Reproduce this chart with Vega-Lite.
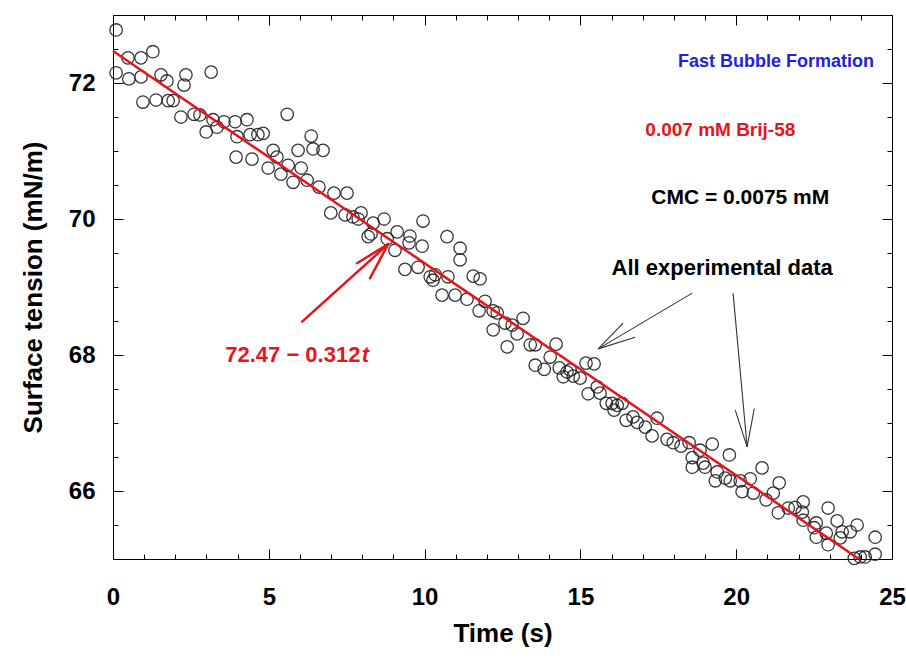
{
  "$schema": "https://vega.github.io/schema/vega-lite/v6.json",
  "width": 779,
  "height": 544,
  "autosize": {"type": "none"},
  "padding": {"left": 113, "top": 15, "right": 14, "bottom": 104},
  "background": "white",
  "config": {"font": "Liberation Sans", "view": {"stroke": "black", "strokeWidth": 1}},
  "datasets": {
    "pts": [
      {"t":0.10,"st":72.78},{"t":0.48,"st":72.37},{"t":0.90,"st":72.37},{"t":1.28,"st":72.46},{"t":0.10,"st":72.15},
      {"t":0.51,"st":72.06},{"t":0.90,"st":72.09},{"t":1.54,"st":72.12},{"t":1.73,"st":72.03},{"t":2.34,"st":72.12},
      {"t":2.28,"st":71.97},{"t":3.15,"st":72.16},{"t":0.96,"st":71.72},{"t":1.38,"st":71.75},{"t":1.77,"st":71.74},
      {"t":1.93,"st":71.74},{"t":2.18,"st":71.50},{"t":2.60,"st":71.54},{"t":2.79,"st":71.53},{"t":2.99,"st":71.28},
      {"t":3.21,"st":71.46},{"t":3.34,"st":71.35},{"t":3.56,"st":71.43},{"t":3.92,"st":71.43},{"t":3.98,"st":71.21},
      {"t":4.30,"st":71.46},{"t":4.40,"st":71.24},{"t":4.65,"st":71.24},{"t":4.82,"st":71.26},{"t":3.95,"st":70.91},
      {"t":4.46,"st":70.88},{"t":5.59,"st":71.54},{"t":6.36,"st":71.22},{"t":5.14,"st":71.01},{"t":5.94,"st":71.01},
      {"t":6.42,"st":71.03},{"t":6.74,"st":71.01},{"t":5.26,"st":70.91},{"t":4.98,"st":70.75},{"t":5.39,"st":70.66},
      {"t":5.62,"st":70.79},{"t":6.04,"st":70.75},{"t":5.78,"st":70.54},{"t":6.23,"st":70.57},{"t":6.61,"st":70.47},
      {"t":7.09,"st":70.38},{"t":7.51,"st":70.38},{"t":6.99,"st":70.09},{"t":7.45,"st":70.06},{"t":7.70,"st":70.03},
      {"t":7.96,"st":70.09},{"t":7.87,"st":70.00},{"t":8.35,"st":69.94},{"t":8.70,"st":70.00},{"t":8.19,"st":69.74},
      {"t":8.28,"st":69.78},{"t":9.12,"st":69.81},{"t":8.80,"st":69.71},{"t":9.05,"st":69.54},{"t":9.95,"st":69.97},
      {"t":9.53,"st":69.75},{"t":9.50,"st":69.65},{"t":9.92,"st":69.60},{"t":10.72,"st":69.74},{"t":11.14,"st":69.57},
      {"t":11.14,"st":69.40},{"t":9.37,"st":69.26},{"t":9.79,"st":69.29},{"t":10.18,"st":69.15},{"t":10.27,"st":69.10},
      {"t":10.34,"st":69.18},{"t":10.75,"st":69.15},{"t":11.56,"st":69.16},{"t":11.78,"st":69.12},{"t":10.56,"st":68.88},
      {"t":10.98,"st":68.88},{"t":11.36,"st":68.82},{"t":11.94,"st":68.79},{"t":11.75,"st":68.65},{"t":12.20,"st":68.65},
      {"t":12.33,"st":68.62},{"t":12.58,"st":68.47},{"t":12.81,"st":68.44},{"t":13.16,"st":68.54},{"t":12.20,"st":68.37},
      {"t":12.97,"st":68.31},{"t":12.65,"st":68.12},{"t":13.39,"st":68.15},{"t":13.55,"st":68.15},{"t":14.22,"st":68.16},
      {"t":14.03,"st":67.97},{"t":13.55,"st":67.85},{"t":13.84,"st":67.79},{"t":14.32,"st":67.81},{"t":14.57,"st":67.75},
      {"t":14.67,"st":67.78},{"t":14.45,"st":67.68},{"t":14.77,"st":67.69},{"t":14.99,"st":67.66},{"t":15.18,"st":67.88},
      {"t":15.44,"st":67.87},{"t":15.54,"st":67.53},{"t":15.25,"st":67.43},{"t":15.63,"st":67.44},{"t":15.83,"st":67.29},
      {"t":16.02,"st":67.29},{"t":16.18,"st":67.26},{"t":16.34,"st":67.29},{"t":16.08,"st":67.19},{"t":16.47,"st":67.04},
      {"t":16.69,"st":67.09},{"t":16.82,"st":67.01},{"t":17.08,"st":66.94},{"t":17.46,"st":67.07},{"t":17.30,"st":66.81},
      {"t":17.78,"st":66.76},{"t":17.98,"st":66.71},{"t":18.23,"st":66.66},{"t":18.49,"st":66.71},{"t":18.84,"st":66.60},
      {"t":19.23,"st":66.69},{"t":19.78,"st":66.53},{"t":18.59,"st":66.49},{"t":18.94,"st":66.41},{"t":18.59,"st":66.35},
      {"t":19.00,"st":66.35},{"t":19.39,"st":66.28},{"t":19.33,"st":66.15},{"t":19.65,"st":66.19},{"t":19.81,"st":66.15},
      {"t":20.13,"st":66.15},{"t":20.45,"st":66.18},{"t":20.83,"st":66.34},{"t":20.19,"st":65.99},{"t":20.55,"st":65.97},
      {"t":20.96,"st":65.87},{"t":21.19,"st":65.97},{"t":21.38,"st":66.12},{"t":21.35,"st":65.68},{"t":21.67,"st":65.75},
      {"t":21.89,"st":65.76},{"t":22.15,"st":65.84},{"t":22.12,"st":65.69},{"t":22.15,"st":65.57},{"t":22.57,"st":65.53},
      {"t":22.50,"st":65.46},{"t":22.95,"st":65.75},{"t":22.57,"st":65.32},{"t":22.89,"st":65.38},{"t":22.95,"st":65.21},
      {"t":23.24,"st":65.56},{"t":23.40,"st":65.40},{"t":23.66,"st":65.40},{"t":23.34,"st":65.31},{"t":23.88,"st":65.50},
      {"t":23.79,"st":65.01},{"t":23.98,"st":65.03},{"t":24.14,"st":65.03},{"t":24.46,"st":65.32},{"t":24.46,"st":65.07}
    ],
    "fit": [{"t": 0, "st": 72.47}, {"t": 23.94, "st": 65.0}],
    "arrows": [
      {"g": "fit", "t": 6.07, "st": 68.49, "t2": 8.83, "st2": 69.63},
      {"g": "fit", "t": 7.83, "st": 69.35, "t2": 8.83, "st2": 69.63},
      {"g": "fit", "t": 8.25, "st": 69.13, "t2": 8.83, "st2": 69.63},
      {"g": "data", "t": 18.59, "st": 68.91, "t2": 15.57, "st2": 68.09},
      {"g": "data", "t": 16.37, "st": 68.47, "t2": 15.57, "st2": 68.09},
      {"g": "data", "t": 16.76, "st": 68.26, "t2": 15.57, "st2": 68.09},
      {"g": "data", "t": 19.90, "st": 68.91, "t2": 20.35, "st2": 66.65},
      {"g": "data", "t": 19.97, "st": 67.19, "t2": 20.35, "st2": 66.65},
      {"g": "data", "t": 20.58, "st": 67.21, "t2": 20.35, "st2": 66.65}
    ]
  },
  "resolve": {"axis": {"x": "independent", "y": "independent"}},
  "layer": [
    {
      "data": {"name": "pts"},
      "mark": {"type": "point", "shape": "circle", "filled": false, "size": 155, "stroke": "#222222", "strokeWidth": 1.3, "opacity": 0.9, "clip": false},
      "encoding": {
        "x": {"field": "t", "type": "quantitative", "scale": {"domain": [0, 25], "nice": false, "zero": false},
          "axis": {"orient": "bottom", "values": [0,1,2,3,4,5,6,7,8,9,10,11,12,13,14,15,16,17,18,19,20,21,22,23,24,25],
            "labelExpr": "datum.value % 5 === 0 ? format(datum.value, 'd') : ''",
            "tickSize": {"condition": {"test": "datum.value % 5 === 0", "value": -10}, "value": -5},
            "labelPadding": 36, "labelFontSize": 24, "labelFontWeight": "bold", "labelColor": "black", "labelFont": "Liberation Sans",
            "labelFlush": false, "labelBound": false, "labelOverlap": false,
            "domainColor": "black", "tickColor": "black", "grid": false,
            "title": "Time (s)", "titleFontSize": 26, "titleFontWeight": "bold", "titleColor": "black", "titleFont": "Liberation Sans", "titlePadding": 6}},
        "y": {"field": "st", "type": "quantitative", "scale": {"domain": [65, 73], "nice": false, "zero": false},
          "axis": {"orient": "left", "values": [65,65.5,66,66.5,67,67.5,68,68.5,69,69.5,70,70.5,71,71.5,72,72.5,73],
            "labelExpr": "datum.value % 2 === 0 ? format(datum.value, 'd') : ''",
            "tickSize": {"condition": {"test": "datum.value % 2 === 0", "value": -10}, "value": -5},
            "labelPadding": 28, "labelFontSize": 24, "labelFontWeight": "bold", "labelColor": "black", "labelFont": "Liberation Sans",
            "labelFlush": false, "labelBound": false, "labelOverlap": false,
            "domainColor": "black", "tickColor": "black", "grid": false,
            "title": "Surface tension (mN/m)", "titleFontSize": 26, "titleFontWeight": "bold", "titleColor": "black", "titleFont": "Liberation Sans", "titlePadding": 22}}
      }
    },
    {
      "data": {"name": "fit"},
      "mark": {"type": "line", "color": "#e8141c", "strokeWidth": 2.5},
      "encoding": {
        "x": {"field": "t", "type": "quantitative",
          "axis": {"orient": "top", "values": [0,1,2,3,4,5,6,7,8,9,10,11,12,13,14,15,16,17,18,19,20,21,22,23,24,25],
            "labels": false, "title": null, "grid": false, "domainColor": "black", "tickColor": "black",
            "tickSize": {"condition": {"test": "datum.value % 5 === 0", "value": -10}, "value": -5}}},
        "y": {"field": "st", "type": "quantitative",
          "axis": {"orient": "right", "values": [65,65.5,66,66.5,67,67.5,68,68.5,69,69.5,70,70.5,71,71.5,72,72.5,73],
            "labels": false, "title": null, "grid": false, "domainColor": "black", "tickColor": "black",
            "tickSize": {"condition": {"test": "datum.value % 2 === 0", "value": -10}, "value": -5}}}
      }
    },
    {
      "data": {"name": "arrows"},
      "transform": [{"filter": "datum.g === 'fit'"}],
      "mark": {"type": "rule", "color": "#e8141c", "strokeWidth": 2.5, "strokeCap": "round"},
      "encoding": {
        "x": {"field": "t", "type": "quantitative", "axis": null},
        "y": {"field": "st", "type": "quantitative", "axis": null},
        "x2": {"field": "t2"},
        "y2": {"field": "st2"}
      }
    },
    {
      "data": {"name": "arrows"},
      "transform": [{"filter": "datum.g === 'data'"}],
      "mark": {"type": "rule", "color": "#333333", "strokeWidth": 1.1},
      "encoding": {
        "x": {"field": "t", "type": "quantitative", "axis": null},
        "y": {"field": "st", "type": "quantitative", "axis": null},
        "x2": {"field": "t2"},
        "y2": {"field": "st2"}
      }
    },
    {
      "data": {"values": [{"t": 21.28, "st": 72.31, "label": "Fast Bubble Formation"}]},
      "mark": {"type": "text", "color": "#2222dd", "fontSize": 18, "fontWeight": "bold", "align": "center", "baseline": "middle"},
      "encoding": {"x": {"field": "t", "type": "quantitative", "axis": null}, "y": {"field": "st", "type": "quantitative", "axis": null}, "text": {"field": "label"}}
    },
    {
      "data": {"values": [{"t": 19.49, "st": 71.31, "label": "0.007 mM Brij-58"}]},
      "mark": {"type": "text", "color": "#e8141c", "fontSize": 19, "fontWeight": "bold", "align": "center", "baseline": "middle"},
      "encoding": {"x": {"field": "t", "type": "quantitative", "axis": null}, "y": {"field": "st", "type": "quantitative", "axis": null}, "text": {"field": "label"}}
    },
    {
      "data": {"values": [{"t": 20.13, "st": 70.31, "label": "CMC = 0.0075 mM"}]},
      "mark": {"type": "text", "color": "black", "fontSize": 21, "fontWeight": "bold", "align": "center", "baseline": "middle"},
      "encoding": {"x": {"field": "t", "type": "quantitative", "axis": null}, "y": {"field": "st", "type": "quantitative", "axis": null}, "text": {"field": "label"}}
    },
    {
      "data": {"values": [{"t": 19.55, "st": 69.28, "label": "All experimental data"}]},
      "mark": {"type": "text", "color": "black", "fontSize": 22, "fontWeight": "bold", "align": "center", "baseline": "middle"},
      "encoding": {"x": {"field": "t", "type": "quantitative", "axis": null}, "y": {"field": "st", "type": "quantitative", "axis": null}, "text": {"field": "label"}}
    },
    {
      "data": {"values": [{"t": 7.94, "st": 68.0, "label": "72.47 − 0.312"}]},
      "mark": {"type": "text", "color": "#e8141c", "fontSize": 22, "fontWeight": "bold", "align": "right", "baseline": "middle"},
      "encoding": {"x": {"field": "t", "type": "quantitative", "axis": null}, "y": {"field": "st", "type": "quantitative", "axis": null}, "text": {"field": "label"}}
    },
    {
      "data": {"values": [{"t": 7.98, "st": 68.0, "label": "t"}]},
      "mark": {"type": "text", "color": "#e8141c", "fontSize": 22, "fontWeight": "bold", "fontStyle": "italic", "align": "left", "baseline": "middle"},
      "encoding": {"x": {"field": "t", "type": "quantitative", "axis": null}, "y": {"field": "st", "type": "quantitative", "axis": null}, "text": {"field": "label"}}
    }
  ]
}
